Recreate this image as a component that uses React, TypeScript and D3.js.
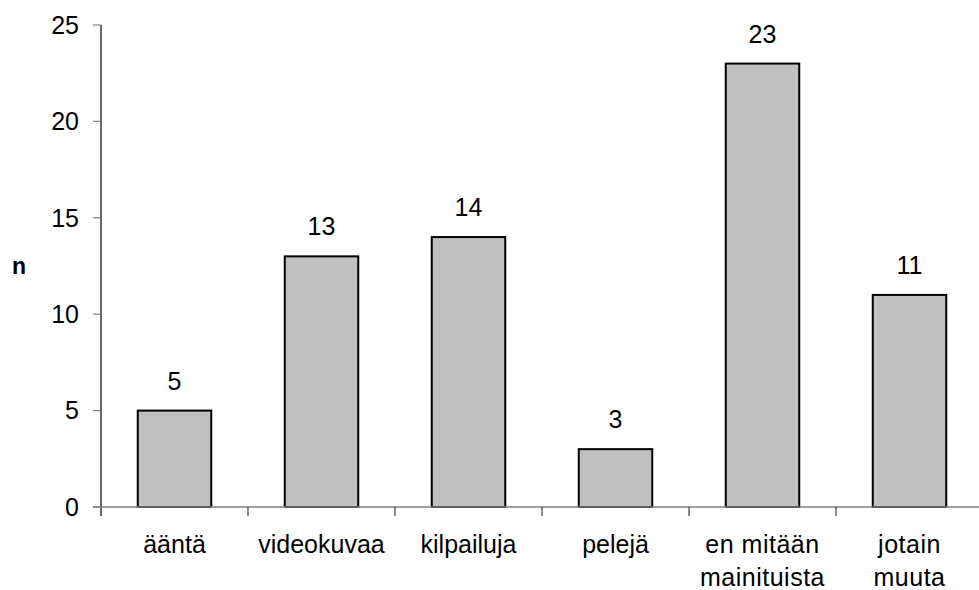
import React, { useEffect, useRef } from "react";
import * as d3 from "d3";

const categories: string[][] = [
  ["ääntä"],
  ["videokuvaa"],
  ["kilpailuja"],
  ["pelejä"],
  ["en mitään", "mainituista"],
  ["jotain", "muuta"],
];
const values: number[] = [5, 13, 14, 3, 23, 11];
const yTicks: number[] = [0, 5, 10, 15, 20, 25];
const yLabel = "n";

const App: React.FC = () => {
  const svgRef = useRef<SVGSVGElement>(null);

  useEffect(() => {
    if (!svgRef.current) return;
    d3.select(svgRef.current).selectAll("*").remove();

    const width = 979;
    const height = 590;
    const font = "'Liberation Sans', Arial, sans-serif";

    const svg = d3.select(svgRef.current)
      .attr("width", width)
      .attr("height", height)
      .attr("viewBox", `0 0 ${width} ${height}`);

    const left = 101;
    const step = 147;
    const x = d3.scaleBand<number>()
      .domain(d3.range(values.length))
      .range([left, left + step * values.length])
      .paddingInner(0.5)
      .paddingOuter(0.25);

    const y = d3.scaleLinear().domain([0, 25]).range([507, 25]);

    // y axis
    svg.append("line")
      .attr("x1", left).attr("x2", left)
      .attr("y1", y(25)).attr("y2", y(0) + 9)
      .attr("stroke", "#000").attr("stroke-width", 1.2);

    const yt = svg.selectAll(".ytick").data(yTicks).enter().append("g")
      .attr("class", "ytick")
      .attr("transform", d => `translate(0,${y(d)})`);
    yt.append("line")
      .attr("x1", left - 8).attr("x2", left)
      .attr("stroke", "#808080").attr("stroke-width", 1.2);
    yt.append("text")
      .attr("x", 79).attr("dy", "0.35em")
      .attr("text-anchor", "end")
      .attr("font-family", font).attr("font-size", 25)
      .attr("fill", "#000")
      .text(d => d);

    svg.append("text")
      .attr("x", 19).attr("y", (y(0) + y(25)) / 2).attr("dy", "0.35em")
      .attr("text-anchor", "middle")
      .attr("font-family", font).attr("font-size", 23).attr("font-weight", "bold")
      .text(yLabel);

    // bars
    svg.selectAll(".bar").data(values).enter().append("rect")
      .attr("class", "bar")
      .attr("x", (d, i) => x(i)!)
      .attr("y", d => y(d))
      .attr("width", x.bandwidth())
      .attr("height", d => y(0) - y(d))
      .attr("fill", "#c0c0c0")
      .attr("stroke", "#000").attr("stroke-width", 2);

    svg.selectAll(".val").data(values).enter().append("text")
      .attr("x", (d, i) => x(i)! + x.bandwidth() / 2)
      .attr("y", d => y(d) - 21)
      .attr("text-anchor", "middle")
      .attr("font-family", font).attr("font-size", 25)
      .text(d => d);

    // x axis
    svg.append("line")
      .attr("x1", left - 8).attr("x2", left + step * values.length)
      .attr("y1", y(0)).attr("y2", y(0))
      .attr("stroke", "#808080").attr("stroke-width", 1.5);

    svg.selectAll(".xtick").data(d3.range(values.length + 1).slice(1)).enter().append("line")
      .attr("x1", i => left + step * i).attr("x2", i => left + step * i)
      .attr("y1", y(0)).attr("y2", y(0) + 9)
      .attr("stroke", "#404040").attr("stroke-width", 1.2);

    const labels = svg.selectAll(".xlab").data(categories).enter().append("text")
      .attr("text-anchor", "middle")
      .attr("font-family", font).attr("font-size", 25)
      .attr("letter-spacing", d => (d.length > 1 ? 0.5 : 0));
    labels.selectAll("tspan").data((d, i) => d.map(t => ({ t, i }))).enter().append("tspan")
      .attr("x", d => x(d.i)! + x.bandwidth() / 2)
      .attr("y", (d, j) => 553 + j * 33)
      .text(d => d.t);
  }, []);

  return <svg ref={svgRef} style={{ position: "absolute", left: 0, top: 0 }} />;
};

export default App;
